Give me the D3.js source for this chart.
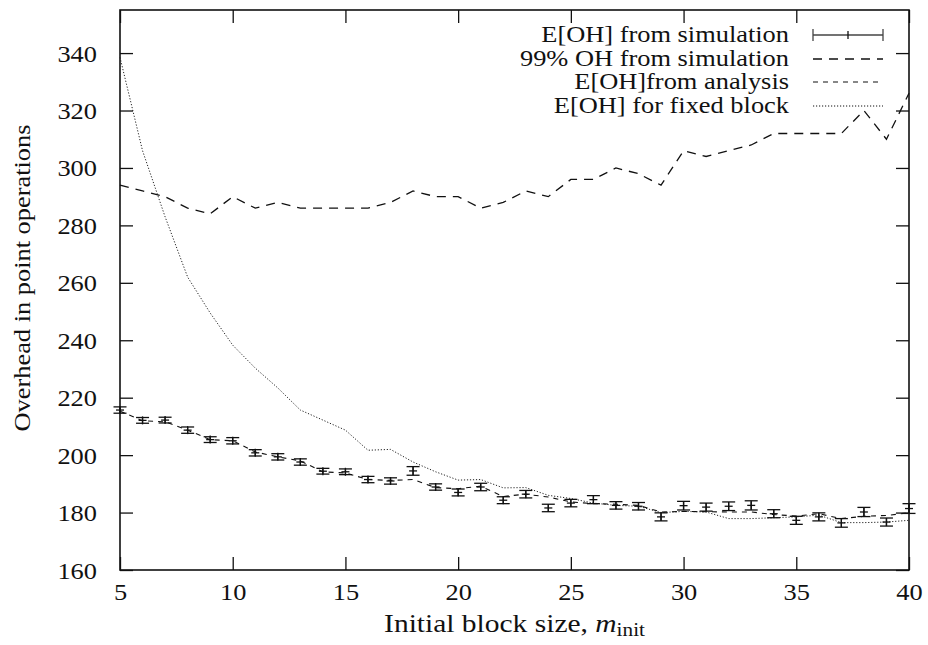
<!DOCTYPE html>
<html>
<head>
<meta charset="utf-8">
<script src="https://cdn.jsdelivr.net/npm/d3@7"></script>
<style>
  html, body { margin: 0; padding: 0; background: #fff; }
  svg { display: block; }
</style>
</head>
<body>
<svg id="chart" width="928" height="645"></svg>
<script>
// Initial block size m_init
const blockSizes = [5,6,7,8,9,10,11,12,13,14,15,16,17,18,19,20,21,22,23,24,25,26,27,28,29,30,31,32,33,34,35,36,37,38,39,40];

// E[OH] from simulation (mean and half-width of error bar)
const simMean = [215.7,212.1,212.2,208.7,205.4,205.0,200.8,199.4,197.6,194.4,194.2,191.5,191.0,194.5,188.9,187.0,188.9,184.3,186.4,181.6,183.3,184.5,182.5,182.2,178.5,182.4,181.9,182.2,182.5,179.6,177.3,178.5,176.4,180.2,176.7,181.4];
const simErr  = [1.1,1.0,1.0,1.1,1.0,1.1,1.1,1.1,1.1,1.0,1.0,1.1,1.1,1.5,1.1,1.2,1.3,1.2,1.3,1.3,1.3,1.4,1.3,1.3,1.4,1.5,1.4,1.5,1.6,1.4,1.4,1.4,1.5,1.6,1.4,1.7];

// 99% OH from simulation
const oh99 = [294,292,290,286,284,290,286,288,286,286,286,286,288,292,290,290,286,288,292,290,296,296,300,298,294,306,304,306,308,312,312,312,312,320,310,326];

// E[OH] from analysis
const analysis = [215.3,212.0,211.6,208.7,205.4,205.0,201.1,199.4,198.0,194.2,193.8,191.5,191.2,191.5,188.7,188.3,189.2,185.6,186.4,185.4,183.7,183.1,182.9,182.5,180.2,180.4,180.3,180.2,180.2,179.3,178.8,179.6,177.9,178.7,179.0,179.9];

// E[OH] for fixed block
const fixedBlock = [338.5,306,283,262,249.5,238.3,230.3,223.4,215.7,212.2,208.7,201.7,202.0,197.6,194.2,191.3,191.5,188.6,188.7,186.0,184.9,183.3,182.5,182.2,180.0,180.4,180.2,177.9,177.9,178.2,178.5,179.1,176.5,176.5,176.7,177.3];

const xTicks = [5,10,15,20,25,30,35,40];
const yTicks = [160,180,200,220,240,260,280,300,320,340];

const legendLabels = ["E[OH] from simulation", "99% OH from simulation", "E[OH]from analysis", "E[OH] for fixed block"];

const svg = d3.select("#chart");
const plotLeft = 120, plotRight = 909, plotTop = 10, plotBottom = 570;

const x = d3.scaleLinear().domain([5, 40]).range([plotLeft, plotRight]);
const y = d3.scaleLinear().domain([160, 355]).range([plotBottom, plotTop]);

const tickLen = 13;
const FONT = "'Liberation Serif', 'Times New Roman', serif";
const fontSize = 24;
const stretch = 1.1;   // widen the serif face horizontally

// Text placed at (px, py), widened horizontally around its anchor
function label(parent, px, py, anchor, str, sx = stretch) {
  return parent.append("text")
    .attr("transform", `translate(${px},${py}) scale(${sx},1)`)
    .attr("text-anchor", anchor)
    .style("font-family", FONT).style("font-size", fontSize + "px")
    .attr("fill", "#111")
    .text(str);
}

// Axes: inward ticks on all four sides
const gBottom = svg.append("g").attr("transform", `translate(0,${plotBottom})`)
  .call(d3.axisBottom(x).tickValues(xTicks).tickSizeInner(-tickLen).tickSizeOuter(0));
const gTop = svg.append("g").attr("transform", `translate(0,${plotTop})`)
  .call(d3.axisTop(x).tickValues(xTicks).tickSizeInner(-tickLen).tickSizeOuter(0).tickFormat(""));
const gLeft = svg.append("g").attr("transform", `translate(${plotLeft},0)`)
  .call(d3.axisLeft(y).tickValues(yTicks).tickSizeInner(-tickLen).tickSizeOuter(0));
const gRight = svg.append("g").attr("transform", `translate(${plotRight},0)`)
  .call(d3.axisRight(y).tickValues(yTicks).tickSizeInner(-tickLen).tickSizeOuter(0).tickFormat(""));

[gBottom, gTop, gLeft, gRight].forEach(g => {
  g.select(".domain").remove();
  g.selectAll(".tick line").attr("stroke", "#111").attr("stroke-width", 1.3);
  g.selectAll(".tick text")
    .style("font-family", FONT).style("font-size", fontSize + "px").attr("fill", "#111");
});
gBottom.selectAll(".tick text")
  .attr("x", 0).attr("y", 0).attr("dy", null)
  .attr("transform", `translate(0,30) scale(${stretch},1)`);
gLeft.selectAll(".tick text")
  .attr("x", 0).attr("y", 0).attr("dy", null)
  .attr("transform", `translate(-23,8) scale(${stretch},1)`);

// Plot border
svg.append("rect")
  .attr("x", plotLeft).attr("y", plotTop)
  .attr("width", plotRight - plotLeft).attr("height", plotBottom - plotTop)
  .attr("fill", "none").attr("stroke", "#111").attr("stroke-width", 1.6);

const line = vals => d3.line().x((d, i) => x(blockSizes[i])).y(d => y(d))(vals);

// Fixed-block curve (dotted)
svg.append("path").attr("d", line(fixedBlock))
  .attr("fill", "none").attr("stroke", "#222").attr("stroke-width", 1)
  .attr("stroke-dasharray", "1.2,1.8");

// Analysis curve (short dashes)
svg.append("path").attr("d", line(analysis))
  .attr("fill", "none").attr("stroke", "#111").attr("stroke-width", 1.1)
  .attr("stroke-dasharray", "5,5");

// 99% quantile curve (long dashes)
svg.append("path").attr("d", line(oh99))
  .attr("fill", "none").attr("stroke", "#111").attr("stroke-width", 1.3)
  .attr("stroke-dasharray", "9,7");

// Simulation means with error bars
const capHalf = 6.5, plusHalf = 4;
const pts = svg.append("g").attr("stroke", "#111").attr("stroke-width", 1.3);
blockSizes.forEach((b, i) => {
  const cx = x(b), lo = y(simMean[i] - simErr[i]), hi = y(simMean[i] + simErr[i]), cy = y(simMean[i]);
  pts.append("line").attr("x1", cx).attr("x2", cx).attr("y1", lo).attr("y2", hi);
  pts.append("line").attr("x1", cx - capHalf).attr("x2", cx + capHalf).attr("y1", lo).attr("y2", lo);
  pts.append("line").attr("x1", cx - capHalf).attr("x2", cx + capHalf).attr("y1", hi).attr("y2", hi);
  pts.append("line").attr("x1", cx - plusHalf).attr("x2", cx + plusHalf).attr("y1", cy).attr("y2", cy);
  pts.append("line").attr("x1", cx).attr("x2", cx).attr("y1", cy - plusHalf).attr("y2", cy + plusHalf);
});

// Legend
const legX1 = 813, legX2 = 883, legTextX = 789;
const legRows = [35, 59, 82, 106];
const legend = svg.append("g");
legendLabels.forEach((lab, i) => label(legend, legTextX, legRows[i] + 7, "end", lab));
// row 1: error bar sample
const r0 = legRows[0];
const es = legend.append("g").attr("stroke", "#444").attr("stroke-width", 1.3);
es.append("line").attr("x1", legX1).attr("x2", legX2).attr("y1", r0).attr("y2", r0);
es.append("line").attr("x1", legX1).attr("x2", legX1).attr("y1", r0 - 6).attr("y2", r0 + 6);
es.append("line").attr("x1", legX2).attr("x2", legX2).attr("y1", r0 - 6).attr("y2", r0 + 6);
es.append("line").attr("x1", (legX1 + legX2) / 2).attr("x2", (legX1 + legX2) / 2).attr("y1", r0 - 4).attr("y2", r0 + 4).attr("stroke", "#111");
// rows 2-4: line samples
[["9,7", 1.3], ["5,5", 1.1], ["1.2,1.8", 1]].forEach(([dash, w], k) => {
  const ry = legRows[k + 1];
  legend.append("line").attr("x1", legX1).attr("x2", legX2).attr("y1", ry).attr("y2", ry)
    .attr("stroke", "#111").attr("stroke-width", w).attr("stroke-dasharray", dash);
});

// Axis titles
const xTitle = label(svg, (plotLeft + plotRight) / 2, 632, "middle", "", 1.18)
  .style("font-size", "25px");
xTitle.append("tspan").text("Initial block size, ");
xTitle.append("tspan").attr("font-style", "italic").text("m");
xTitle.append("tspan").style("font-size", "18px").attr("dy", 4).text("init");

svg.append("text")
  .attr("transform", `translate(30,278) rotate(-90) scale(${stretch},1)`)
  .attr("text-anchor", "middle")
  .style("font-family", FONT).style("font-size", fontSize + "px").attr("fill", "#111")
  .text("Overhead in point operations");
</script>
</body>
</html>
